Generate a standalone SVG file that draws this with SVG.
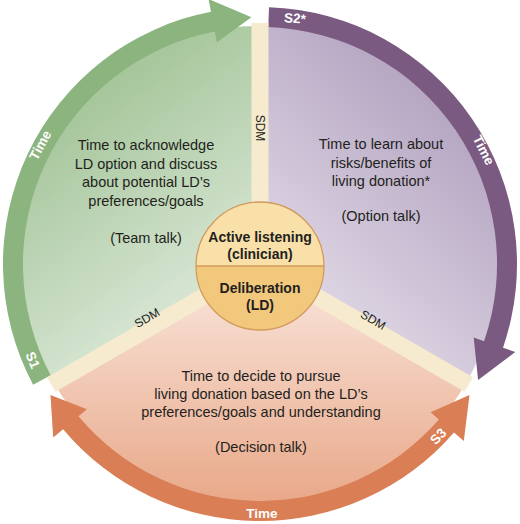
<svg xmlns="http://www.w3.org/2000/svg" width="520" height="524" viewBox="0 0 520 524">
<defs>
<linearGradient id="gGreen" gradientUnits="userSpaceOnUse" x1="90" y1="80" x2="245" y2="290">
<stop offset="0" stop-color="#a3c498"/><stop offset="1" stop-color="#dce9d9"/>
</linearGradient>
<linearGradient id="gPurple" gradientUnits="userSpaceOnUse" x1="440" y1="110" x2="290" y2="270">
<stop offset="0" stop-color="#b6a7c3"/><stop offset="1" stop-color="#ddd5e3"/>
</linearGradient>
<linearGradient id="gOrange" gradientUnits="userSpaceOnUse" x1="260" y1="300" x2="260" y2="500">
<stop offset="0" stop-color="#f7ded2"/><stop offset="1" stop-color="#e9a98a"/>
</linearGradient>
<style>
.t{font-family:"Liberation Sans",Arial,sans-serif;font-size:14.5px;fill:#231f20;text-anchor:middle}
.c{font-family:"Liberation Sans",Arial,sans-serif;font-size:14px;font-weight:bold;fill:#231f20;text-anchor:middle}
.w{font-family:"Liberation Sans",Arial,sans-serif;font-size:13.5px;font-weight:bold;fill:#ffffff;text-anchor:middle}
.s{font-family:"Liberation Sans",Arial,sans-serif;font-size:12px;fill:#231f20;text-anchor:middle}
.sdm{fill:#f6ebcf}
</style>
</defs>
<rect width="520" height="524" fill="#ffffff"/>
<g id="sector-s1">
<path d="M260,264 L260,26 A238,238 0 0 0 53.9,383 Z" fill="url(#gGreen)"/>
<path d="M33.1,384.7 A257,257 0 0 1 211,11.7 L208.5,-1 L251.4,17.2 L216.9,42.2 L214.8,31.4 A237,237 0 0 0 50.7,375.3 Z" fill="#8cb47e"/>
<text class="t" x="146" y="150">Time to acknowledge</text>
<text class="t" x="146" y="168.5">LD option and discuss</text>
<text class="t" x="146" y="187">about potential LD’s</text>
<text class="t" x="146" y="205.5">preferences/goals</text>
<text class="t" x="146" y="243">(Team talk)</text>
<text class="w" transform="translate(40,145) rotate(-62)" dy="5">Time</text>
<text class="w" transform="translate(33,360) rotate(67)" dy="5">S1</text>
</g>
<g id="sector-s2">
<path d="M260,264 L466.1,383 A238,238 0 0 0 260,26 Z" fill="url(#gPurple)"/>
<path d="M269,7.2 A257,257 0 0 1 503,347.7 L515.3,351.9 L478.1,380 L473.7,337.6 L484.1,341.2 A237,237 0 0 0 268.3,27.1 Z" fill="#7a5a80"/>
<text class="t" x="381" y="149">Time to learn about</text>
<text class="t" x="381" y="167.5">risks/benefits of</text>
<text class="t" x="381" y="186">living donation*</text>
<text class="t" x="381" y="221">(Option talk)</text>
<text class="w" transform="translate(484,150) rotate(63)" dy="5">Time</text>
<text class="w" transform="translate(295,18) rotate(4)" dy="5">S2*</text>
</g>
<g id="sector-s3">
<path d="M260,264 L53.9,383 A238,238 0 0 0 466.1,383 Z" fill="url(#gOrange)"/>
<path d="M50.5,394.9 L53.2,437.6 L63.1,429.2 A257,257 0 0 0 454,432.6 L463.8,441.1 L469.5,394.9 L430.6,412.3 L438.9,419.5 A237,237 0 0 1 78.5,416.3 L86.9,409.3 Z" fill="#d97e55"/>
<text class="t" x="261" y="381">Time to decide to pursue</text>
<text class="t" x="261" y="399">living donation based on the LD’s</text>
<text class="t" x="261" y="417">preferences/goals and understanding</text>
<text class="t" x="261" y="452">(Decision talk)</text>
<text class="w" x="262" y="518">Time</text>
<text class="w" transform="translate(438,436) rotate(-46)" dy="5">S3</text>
</g>
<g id="connectors">
<rect class="sdm" x="251.5" y="23" width="17" height="241"/>
<rect class="sdm" x="251.5" y="23" width="17" height="241" transform="rotate(-120 260 264)"/>
<rect class="sdm" x="251.5" y="23" width="17" height="241" transform="rotate(120 260 264)"/>
<text class="s" transform="translate(260,128) rotate(90)" dy="4">SDM</text>
<text class="s" transform="translate(147,318) rotate(-30)" dy="4">SDM</text>
<text class="s" transform="translate(373,320) rotate(30)" dy="4">SDM</text>
</g>
<g id="center">
<path d="M196,266 A64,64 0 0 1 324,266 Z" fill="#f8e0a8"/>
<path d="M196,266 A64,64 0 0 0 324,266 Z" fill="#f2c87c"/>
<circle cx="260" cy="266" r="64" fill="none" stroke="#d39a5e" stroke-width="1.3"/>
<line x1="196" y1="266" x2="324" y2="266" stroke="#d39a5e" stroke-width="1.3"/>
<text class="c" x="260" y="242">Active listening</text>
<text class="c" x="260" y="259">(clinician)</text>
<text class="c" x="260" y="293">Deliberation</text>
<text class="c" x="260" y="310">(LD)</text>
</g>
</svg>
